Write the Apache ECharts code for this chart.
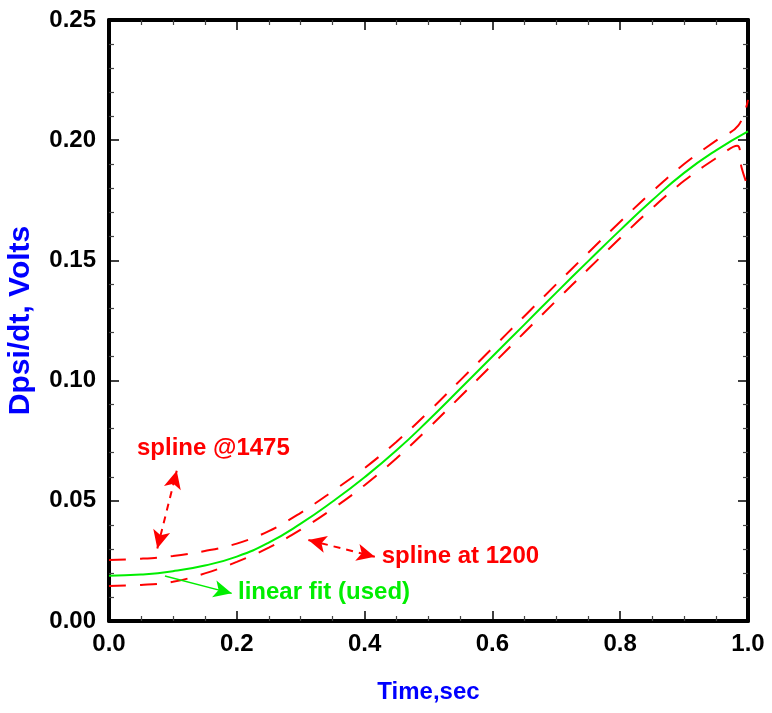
<!DOCTYPE html>
<html><head><meta charset="utf-8">
<script src="https://cdn.jsdelivr.net/npm/echarts@6/dist/echarts.min.js"></script>
<style>html,body{margin:0;padding:0;background:#fff}#c{width:772px;height:713px}</style>
</head><body><div id="c"></div>
<script>
// Time axis samples (sec)
const greenT = [0,0.05,0.1,0.15,0.2,0.25,0.3,0.35,0.4,0.45,0.5,0.55,0.6,0.65,0.7,0.75,0.8,0.85,0.9,0.95,1.0];
// linear fit (used)
const greenY = [0.0188,0.0193,0.0207,0.0231,0.0268,0.0326,0.0405,0.0497,0.0598,0.0710,0.0835,0.0967,0.1100,0.1233,0.1366,0.1497,0.1626,0.1750,0.1864,0.1958,0.2037];
// spline @1475
const upperT = [0,0.05,0.1,0.15,0.2,0.25,0.3,0.35,0.4,0.45,0.5,0.55,0.6,0.65,0.7,0.75,0.8,0.85,0.9,0.95,0.985,1.0];
const upperY = [0.0254,0.0259,0.0270,0.0291,0.0322,0.0374,0.0450,0.0540,0.0636,0.0746,0.0870,0.1002,0.1135,0.1268,0.1401,0.1532,0.1661,0.1786,0.1901,0.1998,0.2062,0.2168];
// spline at 1200
const lowerT = [0,0.05,0.1,0.15,0.2,0.25,0.3,0.35,0.4,0.45,0.5,0.55,0.6,0.65,0.7,0.75,0.8,0.85,0.9,0.95,0.983,0.99,1.0];
const lowerY = [0.0146,0.0150,0.0163,0.0198,0.0246,0.0305,0.0380,0.0467,0.0565,0.0677,0.0802,0.0934,0.1067,0.1200,0.1333,0.1464,0.1593,0.1717,0.1831,0.1925,0.1977,0.1885,0.1805];
// axis ticks
const xMin = 0, xMax = 1.0, xStep = 0.2;
const yMin = 0, yMax = 0.25, yStep = 0.05;
// annotations (data coordinates)
const arrow1475 = [[0.0756,0.0302],[0.106,0.0625]];
const arrow1200 = [[0.312,0.0337],[0.416,0.0267]];
const arrowFit  = [[0.0876,0.0187],[0.192,0.0115]];
const labels = [
  {text:'spline @1475', at:[0.0438,0.0720], color:'#ff0000'},
  {text:'spline at 1200', at:[0.4268,0.0270], color:'#ff0000'},
  {text:'linear fit (used)', at:[0.2019,0.0121], color:'#00ee00'}
];

const SANS = "'Liberation Sans',Arial,Helvetica,sans-serif";
const zip = (a,b) => a.map((v,i)=>[v,b[i]]);

const chart = echarts.init(document.getElementById('c'), null, {renderer:'canvas'});
const axisCommon = {
  axisLine:{show:true, onZero:false, lineStyle:{color:'#000', width:4}},
  axisTick:{show:true, inside:true, length:10, lineStyle:{color:'#000', width:1.5}},
  splitLine:{show:false}
};
const minorX = {show:true, length:5, splitNumber:4, lineStyle:{color:'#444', width:1.2}};
const minorY = {show:true, length:5, splitNumber:5, lineStyle:{color:'#444', width:1.2}};
chart.setOption({
  animation:false,
  backgroundColor:'#fff',
  grid:{left:109, top:20, right:24, bottom:92, containLabel:false, outerBoundsMode:'none'},
  xAxis:[
    Object.assign({type:'value', min:xMin, max:xMax, interval:xStep, position:'bottom',
      name:'Time,sec', nameLocation:'middle', nameGap:59,
      nameTextStyle:{color:'#0000ff', fontFamily:SANS, fontWeight:'bold', fontSize:24},
      axisLabel:{color:'#000', fontFamily:SANS, fontWeight:'bold', fontSize:24, margin:11,
        formatter:v=>v.toFixed(1)}, minorTick:minorX}, axisCommon),
    Object.assign({type:'value', min:xMin, max:xMax, interval:xStep, position:'top',
      axisLabel:{show:false}, minorTick:minorX}, axisCommon)
  ],
  yAxis:[
    Object.assign({type:'value', min:yMin, max:yMax, interval:yStep, position:'left',
      name:'Dpsi/dt, Volts', nameLocation:'middle', nameGap:73, nameRotate:90,
      nameTextStyle:{color:'#0000ff', fontFamily:SANS, fontWeight:'bold', fontSize:30},
      axisLabel:{color:'#000', fontFamily:SANS, fontWeight:'bold', fontSize:24, margin:13,
        formatter:v=>v.toFixed(2)}, minorTick:minorY}, axisCommon),
    Object.assign({type:'value', min:yMin, max:yMax, interval:yStep, position:'right',
      axisLabel:{show:false}, minorTick:minorY}, axisCommon)
  ],
  series:[
    {type:'line', name:'spline @1475', data:zip(upperT,upperY), showSymbol:false, smooth:0.4,
      lineStyle:{color:'#ff0000', width:2, type:[17,14]}, z:3,
      markLine:{silent:true, symbol:['arrow','arrow'], symbolSize:[13,18], label:{show:false},
        lineStyle:{color:'#ff0000', width:2, type:[7,6]},
        data:[
          [{coord:arrow1475[0]},{coord:arrow1475[1]}],
          [{coord:arrow1200[0]},{coord:arrow1200[1]}]
        ]}},
    {type:'line', name:'spline at 1200', data:zip(lowerT,lowerY), showSymbol:false, smooth:0.4,
      lineStyle:{color:'#ff0000', width:2, type:[17,14]}, z:3},
    {type:'line', name:'linear fit (used)', data:zip(greenT,greenY), showSymbol:false, smooth:0.5,
      lineStyle:{color:'#00ee00', width:2}, z:4,
      markLine:{silent:true, symbol:['none','arrow'], symbolSize:[13,18], label:{show:false},
        lineStyle:{color:'#00ee00', width:1.5, type:'solid'},
        data:[[{coord:arrowFit[0]},{coord:arrowFit[1]}]]}}
  ]
});
const g = labels.map(l => {
  const p = chart.convertToPixel({xAxisIndex:0, yAxisIndex:0}, l.at);
  return {type:'text', x:p[0], y:p[1], z:10,
    style:{text:l.text, fill:l.color, font:"bold 24px 'Liberation Sans', Arial, sans-serif",
      textAlign:'left', textVerticalAlign:'middle', verticalAlign:'middle'}};
});
chart.setOption({graphic:g});
</script>
</body></html>
